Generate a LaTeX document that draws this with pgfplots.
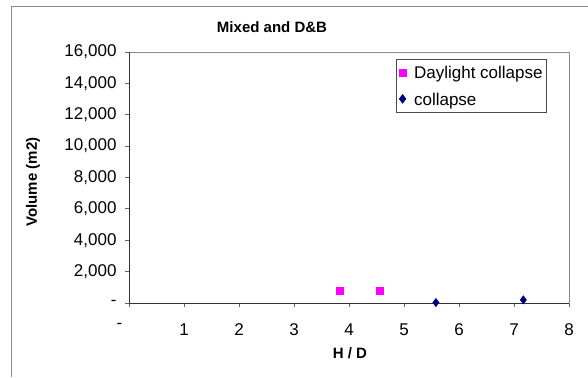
\documentclass[border=0pt]{standalone}
\usepackage{fontspec}
\setmainfont{Liberation Sans}
\usepackage{pgfplots}
\pgfplotsset{compat=1.18}
\definecolor{dl}{HTML}{FF00FF}
\definecolor{cl}{HTML}{000080}
\begin{document}
\begin{tikzpicture}
\useasboundingbox (0pt,0pt) rectangle (588pt,377pt);
\draw[black!45, line width=1pt] (11pt,0pt) -- (11pt,370pt) -- (588pt,370pt);
\node[font=\bfseries\fontsize{15}{18}\selectfont] at (272pt,350pt) {Mixed and D\&B};
\begin{axis}[at={(129pt,74pt)}, anchor=south west, scale only axis,
  width=440pt, height=251pt,
  xmin=0, xmax=8, ymin=0, ymax=16000,
  scaled y ticks=false, scaled x ticks=false,
  xtick={0,1,...,8},
  xticklabels={{-\hphantom{00}},1,2,3,4,5,6,7,8},
  ytick={0,2000,...,16000},
  yticklabels={-,{2,000},{4,000},{6,000},{8,000},{10,000},{12,000},{14,000},{16,000}},
  tick align=outside,
  xtick pos=bottom, ytick pos=left,
  major tick length=4pt,
  tick style={black!60, line width=0.8pt},
  axis line style={black!45, line width=0.8pt},
  ticklabel style={font=\fontsize{17}{20}\selectfont},
  yticklabel style={xshift=-5pt},
  xticklabel style={yshift=-13pt},
  xlabel={H / D}, ylabel={Volume (m2)},
  label style={font=\bfseries\fontsize{15}{18}\selectfont},
  xlabel style={at={(axis description cs:0.502,-0.199)}, anchor=center},
  ylabel style={at={(axis description cs:-0.218,0.482)}, anchor=center},
  legend style={at={(1,1)}, anchor=north east, xshift=-22pt, yshift=-7pt,
    draw=black!70, line width=0.8pt, font=\fontsize{17}{20}\selectfont,
    row sep=12pt, column sep=7pt, inner xsep=3pt, inner ysep=6pt,
    nodes={inner sep=1pt, text depth=0pt}},
  legend cell align=left,
  clip=false,
]
\addplot[only marks, mark=square*, mark size=3.5pt, color=dl] coordinates {(3.84,800) (4.55,800)};
\addlegendentry{Daylight collapse}
\addplot[only marks, mark=diamond*, mark size=4.2pt, color=cl] coordinates {(5.58,30) (7.17,200)};
\addlegendentry{collapse}
\draw[black!80, line width=0.9pt] (rel axis cs:0,1) -- (rel axis cs:0,0) -- (rel axis cs:1,0);
\end{axis}
\end{tikzpicture}
\end{document}
